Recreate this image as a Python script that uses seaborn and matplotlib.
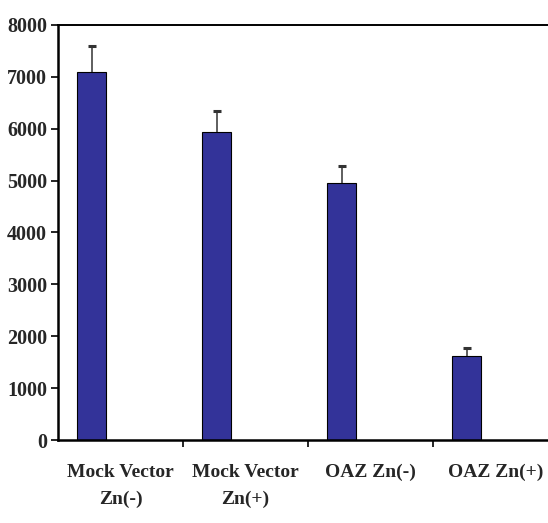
import matplotlib
matplotlib.use("Agg")
import matplotlib.pyplot as plt
import seaborn as sns

# values
groups = ["Mock Vector\nZn(-)", "Mock Vector\nZn(+)", "OAZ Zn(-)", "OAZ Zn(+)"]
means = [7085, 5940, 4960, 1620]
errors = [505, 410, 330, 150]
yticks = [0, 1000, 2000, 3000, 4000, 5000, 6000, 7000, 8000]

sns.set_style("white")
plt.rcParams["font.family"] = ["Liberation Serif", "DejaVu Serif"]
plt.rcParams["font.weight"] = "bold"

fig = plt.figure(figsize=(5.48, 5.23), dpi=100)
ax = fig.add_axes([58 / 548, 83 / 523, 500 / 548, 415 / 523])

sns.barplot(x=groups, y=means, color="#333399", saturation=1, width=0.232,
            edgecolor="black", linewidth=0.8, ax=ax, errorbar=None)
# only the upper half of the error bar is shown
eb = ax.errorbar(range(len(means)), means, yerr=[[0] * len(means), errors],
                 fmt="none", ecolor="#333333", elinewidth=1.1, capsize=3,
                 capthick=2.2)
eb[1][0].set_visible(False)  # drop the cap sitting on the bar top

ax.set_xlim(-0.27, 3.73)
ax.set_ylim(0, 8000)
ax.set_yticks(yticks)
ax.set_yticklabels([str(t) for t in yticks], fontsize=14.5, fontweight="bold")

# slot separators as major ticks, names as minor ticks in the slot middle
ax.set_xticks([0.73, 1.73, 2.73])
ax.set_xticklabels(["", "", ""])
ax.set_xticks([i + 0.23 for i in range(len(groups))], minor=True)
ax.set_xticklabels(groups, minor=True, fontsize=14, fontweight="bold",
                   linespacing=1.75)
ax.tick_params(axis="x", which="minor", length=0, pad=17)
ax.tick_params(axis="x", which="major", direction="out", length=5, width=1.2,
               bottom=True, color="black")
ax.tick_params(axis="y", direction="out", length=5, width=1.2, left=True,
               color="black", pad=3)

for s in ["left", "bottom", "top"]:
    ax.spines[s].set_color("black")
    ax.spines[s].set_linewidth(1.8)
ax.spines["top"].set_linewidth(1.4)
ax.spines["right"].set_visible(False)
ax.set_xlabel("")
ax.set_ylabel("")

fig.savefig("out.png", dpi=100)
